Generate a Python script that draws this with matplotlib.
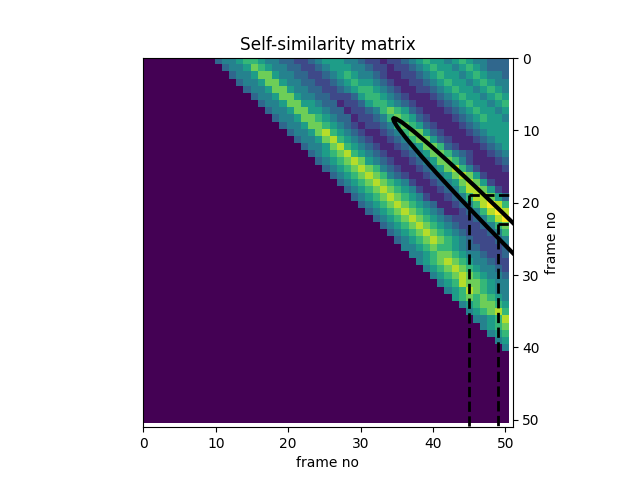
import numpy as np
import matplotlib
matplotlib.use("Agg")
import matplotlib.pyplot as plt
from matplotlib.patches import Ellipse

n_frames = 51
first_offset = 10

# similarity levels 0-9, each row starts at column row + first_offset
rows = [
    "3445665443 3223455544 3221223456 5545654433 3",
    "3445765443 3223455544 3221223456 5545654333",
    "3445775443 3223456544 3211223456 554565443",
    "3445775443 3223456554 3211223456 55456544",
    "3445775443 3223456654 3211223456 5545654",
    "3445775443 3222356654 3211123456 554565",
    "3445775543 3122356654 3211123456 55456",
    "3445775543 3122346765 3211123456 5545",
    "3445776543 3122346765 3211123456 554",
    "3445776543 2122346765 3211123455 55",
    "3445786543 2112346775 3211123455 5",
    "3445786543 2112346775 3211123455",
    "3445786543 2112345776 321112345",
    "3456786543 2112345776 43211234",
    "3456787543 2112345776 4211123",
    "3456787643 2112345786 421112",
    "3456787643 2112345787 52111",
    "3456787654 2112345787 5211",
    "3456787654 2112346887 521",
    "3456787654 2112346887 53",
    "3456787654 3112346898 6",
    "3456787654 3112346898",
    "3456787654 322234689",
    "3456787654 32223467",
    "3456787654 3222346",
    "3456787654 322234",
    "4456766543 32223",
    "4456776544 3223",
    "4567876544 322",
    "4567876544 32",
    "4567876544 3",
    "4568776544",
    "456876544",
    "56767654",
    "4567765",
    "456786",
    "44568",
    "4567",
    "456",
    "45",
    "4",
]

mat = np.zeros((n_frames, n_frames))
for i, r in enumerate(rows):
    vals = [int(c) for c in r.replace(" ", "")]
    mat[i, i + first_offset:i + first_offset + len(vals)] = vals

fig = plt.figure(figsize=(6.4, 4.8), dpi=100)
ax = fig.add_axes([143 / 640, 1 - 427 / 480, 370 / 640, 369 / 480])
ax.imshow(mat, cmap="viridis", vmin=0, vmax=9, interpolation="nearest",
          extent=(0, 50.5, 50.5, 0))

# dashed edges of the two windows, drawn out from the corner
for x0, y0 in [(45, 19), (49, 23)]:
    ax.plot([x0, x0], [y0, 60], color="k", ls="--", lw=2)
    ax.plot([x0, 60], [y0, y0], color="k", ls="--", lw=2)

ax.add_patch(Ellipse((54, 27.8), 55, 3.0, angle=45, fill=False, ec="k", lw=3))

ax.set_xlim(0, 51)
ax.set_ylim(51, 0)
ax.yaxis.tick_right()
ax.yaxis.set_label_position("right")
ax.set_xticks(range(0, 51, 10))
ax.set_yticks(range(0, 51, 10))
ax.set_xlabel("frame no")
ax.set_ylabel("frame no")
ax.set_title("Self-similarity matrix", fontsize=12.2)

fig.savefig("out.png", dpi=100)
